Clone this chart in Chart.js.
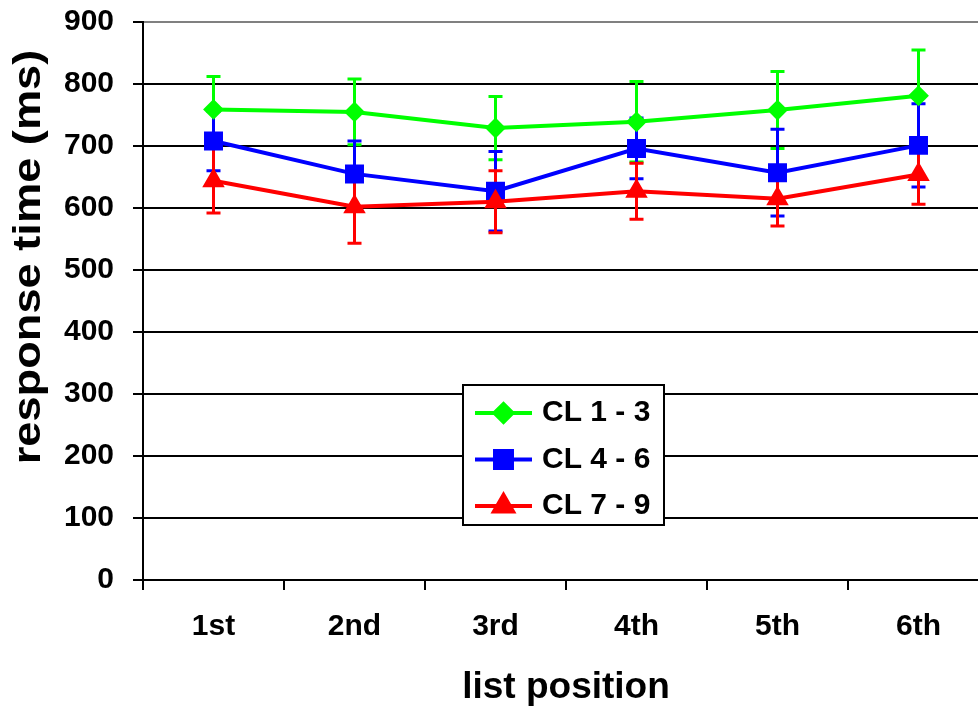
<!DOCTYPE html>
<html>
<head>
<meta charset="utf-8">
<script src="https://cdn.jsdelivr.net/npm/chart.js@4.4.1/dist/chart.umd.min.js"></script>
<style>
  html, body { margin: 0; padding: 0; background: #fff; overflow: hidden; }
  #wrap { width: 978px; height: 710px; overflow: hidden; }
</style>
</head>
<body>
<div id="wrap"><canvas id="myChart" width="1003" height="710"></canvas></div>
<script>
// values
const labels = ['1st', '2nd', '3rd', '4th', '5th', '6th'];
const cl13 = [759, 755, 729, 739, 758, 781];
const cl13Err = [53, 53, 51, 65, 62, 74];
const cl46 = [708, 655, 627, 696, 657, 701];
const cl46Err = [48, 53, 64, 49, 70, 67];
const cl79 = [644, 602, 610, 627, 615, 654];
const cl79Err = [52, 59, 50, 45, 44, 48];
const yMax = 900;
const yStep = 100;

const FONT = "'Liberation Sans', Arial, sans-serif";
Chart.defaults.font.family = FONT;
Chart.defaults.color = '#000';

// vertical error bars, drawn under the lines and markers
const errorBars = {
    id: 'errorBars',
    beforeDatasetsDraw(chart) {
        const ctx = chart.ctx;
        const y = chart.scales.y;
        chart.data.datasets.forEach((ds, i) => {
            const meta = chart.getDatasetMeta(i);
            ctx.save();
            ctx.strokeStyle = ds.borderColor;
            ctx.lineWidth = 3;
            meta.data.forEach((pt, j) => {
                const top = y.getPixelForValue(ds.data[j] + ds.errors[j]);
                const bot = y.getPixelForValue(ds.data[j] - ds.errors[j]);
                ctx.beginPath();
                ctx.moveTo(pt.x, top);
                ctx.lineTo(pt.x, bot);
                ctx.moveTo(pt.x - 7, top);
                ctx.lineTo(pt.x + 7, top);
                ctx.moveTo(pt.x - 7, bot);
                ctx.lineTo(pt.x + 7, bot);
                ctx.stroke();
            });
            ctx.restore();
        });
    }
};

// boxed legend sitting inside the plot
const boxLegend = {
    id: 'boxLegend',
    afterDraw(chart, args, opts) {
        const ctx = chart.ctx;
        ctx.save();
        ctx.fillStyle = '#fff';
        ctx.fillRect(opts.left, opts.top, opts.width, opts.height);
        ctx.strokeStyle = '#000';
        ctx.lineWidth = 2;
        ctx.strokeRect(opts.left, opts.top, opts.width, opts.height);
        chart.data.datasets.forEach((ds, i) => {
            const cy = opts.top + opts.firstRow + i * opts.rowGap;
            const x0 = opts.left + 12;
            const x1 = x0 + 57;
            ctx.strokeStyle = ds.borderColor;
            ctx.fillStyle = ds.borderColor;
            ctx.lineWidth = ds.borderWidth;
            ctx.beginPath();
            ctx.moveTo(x0, cy);
            ctx.lineTo(x1, cy);
            ctx.stroke();
            Chart.helpers.drawPoint(ctx, {
                pointStyle: ds.pointStyle,
                radius: ds.pointRadius,
                borderWidth: ds.pointBorderWidth,
                rotation: 0
            }, (x0 + x1) / 2, cy);
            ctx.fillStyle = '#000';
            ctx.font = 'bold 30px ' + FONT;
            ctx.textAlign = 'left';
            ctx.textBaseline = 'middle';
            ctx.fillText(ds.label, x1 + 10, cy);
        });
        ctx.restore();
    }
};

// y axis title, a bit stretched along its length like the original
const yTitle = {
    id: 'yTitle',
    afterDraw(chart, args, opts) {
        const ctx = chart.ctx;
        ctx.save();
        ctx.translate(opts.x, opts.y);
        ctx.rotate(-Math.PI / 2);
        ctx.scale(opts.stretch, 1);
        ctx.font = 'bold ' + opts.size + 'px ' + FONT;
        ctx.fillStyle = '#000';
        ctx.textAlign = 'center';
        ctx.textBaseline = 'middle';
        ctx.fillText(opts.text, 0, 0);
        ctx.restore();
    }
};

const myChartRef = document.getElementById('myChart').getContext('2d');

new Chart(myChartRef, {
    type: 'line',
    data: {
        labels: labels,
        datasets: [
            {
                label: 'CL 1 - 3',
                data: cl13,
                errors: cl13Err,
                borderColor: '#00ff00',
                backgroundColor: '#00ff00',
                borderWidth: 4,
                pointStyle: 'rectRot',
                pointRadius: 9,
                pointBorderWidth: 2,
                order: 3
            },
            {
                label: 'CL 4 - 6',
                data: cl46,
                errors: cl46Err,
                borderColor: '#0000ff',
                backgroundColor: '#0000ff',
                borderWidth: 4,
                pointStyle: 'rect',
                pointRadius: 12,
                pointBorderWidth: 2,
                order: 2
            },
            {
                label: 'CL 7 - 9',
                data: cl79,
                errors: cl79Err,
                borderColor: '#ff0000',
                backgroundColor: '#ff0000',
                borderWidth: 4,
                pointStyle: 'triangle',
                pointRadius: 11,
                pointBorderWidth: 2,
                order: 1
            }
        ]
    },
    options: {
        responsive: false,
        animation: false,
        events: [],
        // canvas is wider than the page: the plot runs past the right edge, as in the original
        layout: { padding: { left: 0, top: 22, right: 1, bottom: 0 } },
        plugins: {
            legend: { display: false },
            tooltip: { enabled: false },
            boxLegend: { left: 463, top: 385, width: 201, height: 140, firstRow: 28, rowGap: 46.5 },
            yTitle: { text: 'response time (ms)', x: 30, y: 257, size: 38, stretch: 1.19 }
        },
        scales: {
            x: {
                type: 'category',
                offset: true,
                afterFit(s) {
                    s.height = 130;
                    s.paddingLeft = 0;
                    s.paddingRight = 0;
                },
                grid: {
                    offset: true,
                    drawOnChartArea: false,
                    tickLength: 10,
                    tickColor: '#000',
                    lineWidth: 2
                },
                border: { color: '#000', width: 2 },
                ticks: {
                    font: { size: 30, weight: 'bold' },
                    color: '#000',
                    padding: 19,
                    maxRotation: 0
                },
                title: {
                    display: true,
                    text: 'list position',
                    font: { size: 37, weight: 'bold' },
                    color: '#000',
                    padding: { top: 0, bottom: 0 }
                }
            },
            y: {
                min: 0,
                max: yMax,
                afterFit(s) {
                    s.width = 143;
                    s.paddingTop = 0;
                    s.paddingBottom = 0;
                },
                grid: {
                    color: c => (c.tick && c.tick.value === yMax ? '#808080' : '#000'),
                    lineWidth: 2,
                    tickLength: 10,
                    tickColor: '#000'
                },
                border: { color: '#000', width: 2 },
                ticks: {
                    stepSize: yStep,
                    font: { size: 30, weight: 'bold' },
                    color: '#000',
                    padding: 19
                }
            }
        }
    },
    plugins: [errorBars, boxLegend, yTitle]
});
</script>
</body>
</html>
